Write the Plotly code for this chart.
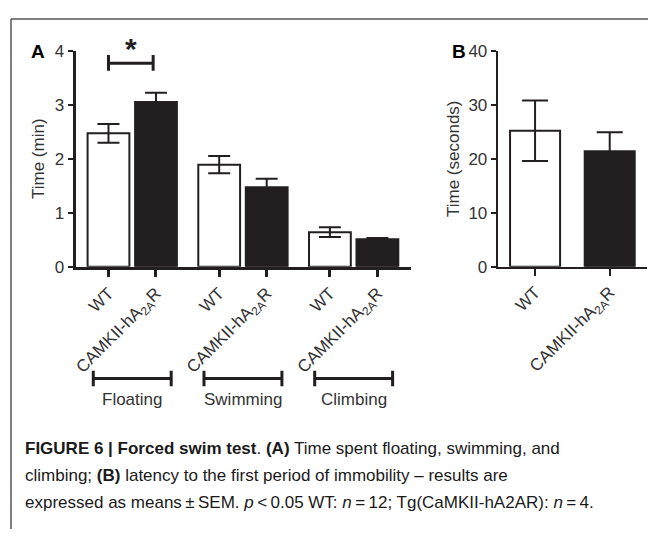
import plotly.graph_objects as go

# ---- data ----
groups = ["Floating", "Swimming", "Climbing"]
genotypes = ["WT", "CAMKII-hA<sub>2A</sub>R"]
wt_mean_a = [2.47, 1.89, 0.64]
wt_sem_a = [0.175, 0.16, 0.09]
tg_mean_a = [3.05, 1.47, 0.51]
tg_sem_a = [0.17, 0.16, 0.02]
b_mean = [25.2, 21.4]
b_sem = [5.6, 3.5]
a_yticks = [0, 1, 2, 3, 4]
b_yticks = [0, 10, 20, 30, 40]

OFF = 8  # page body margin
W, H = 656 - OFF, 539 - OFF
INK = "#231f20"
TXT = "#333333"
FONT = "Liberation Sans, Arial, sans-serif"

step = 2.33
x_wt = [i * step for i in range(len(groups))]
x_tg = [i * step + 1 for i in range(len(groups))]

def py(p):  # screen pixel y -> paper
    return (H - (p - OFF)) / H

def px(p):  # screen pixel x -> paper
    return (p - OFF) / W

fig = go.Figure()

fig.add_trace(go.Bar(
    x=x_wt, y=wt_mean_a, width=0.88, xaxis="x", yaxis="y",
    marker=dict(color="white", line=dict(color=INK, width=2)),
    error_y=dict(type="data", array=wt_sem_a, color=INK, thickness=2, width=11),
    showlegend=False))
fig.add_trace(go.Bar(
    x=x_tg, y=tg_mean_a, width=0.88, xaxis="x", yaxis="y",
    marker=dict(color=INK, line=dict(color=INK, width=2)),
    error_y=dict(type="data", array=tg_sem_a, color=INK, thickness=2, width=11),
    showlegend=False))

fig.add_trace(go.Bar(
    x=[0], y=[b_mean[0]], width=0.67, xaxis="x2", yaxis="y2",
    marker=dict(color="white", line=dict(color=INK, width=2)),
    error_y=dict(type="data", array=[b_sem[0]], color=INK, thickness=2, width=13),
    showlegend=False))
fig.add_trace(go.Bar(
    x=[1], y=[b_mean[1]], width=0.67, xaxis="x2", yaxis="y2",
    marker=dict(color=INK, line=dict(color=INK, width=2)),
    error_y=dict(type="data", array=[b_sem[1]], color=INK, thickness=2, width=13),
    showlegend=False))

tickvals_a = []
ticktext_a = []
for i in range(len(groups)):
    tickvals_a += [x_wt[i], x_tg[i]]
    ticktext_a += genotypes

ydom = [py(267), py(43)]
axis_common = dict(showgrid=False, zeroline=False, showline=True, linecolor=INK,
                   ticks="outside", tickcolor=INK,
                   tickfont=dict(family=FONT, size=17, color=TXT))

fig.update_layout(
    width=W, height=H, margin=dict(l=0, r=0, t=0, b=0),
    paper_bgcolor="white", plot_bgcolor="white", barmode="overlay",
    font=dict(family=FONT, color=TXT),
    xaxis=dict(domain=[px(73), px(410)], range=[-0.69, x_tg[-1] + 0.71],
               tickvals=tickvals_a, ticktext=ticktext_a, tickangle=-45,
               linewidth=3, ticklen=7, tickwidth=3, anchor="y",
               **axis_common),
    yaxis=dict(domain=ydom, range=[0, 4], tickvals=a_yticks, linewidth=3,
               ticklen=5, tickwidth=2, anchor="x",
               title=dict(text="Time (min)", font=dict(family=FONT, size=17, color=TXT), standoff=6),
               **axis_common),
    xaxis2=dict(domain=[px(497), px(647)], range=[-0.5, 1.5],
                tickvals=[0, 1], ticktext=genotypes, tickangle=-45,
                linewidth=2, ticklen=7, tickwidth=2, anchor="y2",
                **axis_common),
    yaxis2=dict(domain=ydom, range=[0, 40], tickvals=b_yticks, linewidth=2,
                ticklen=5, tickwidth=2, anchor="x2",
                title=dict(text="Time (seconds)", font=dict(family=FONT, size=17, color=TXT), standoff=4),
                **axis_common),
)

shapes = []
# frame
shapes.append(dict(type="line", xref="paper", yref="paper", x0=px(8), x1=1, y0=py(10), y1=py(10),
                   line=dict(color="#555555", width=1.5)))
shapes.append(dict(type="line", xref="paper", yref="paper", x0=px(8), x1=px(8), y0=py(10), y1=0,
                   line=dict(color="#555555", width=1.5)))
# significance bracket
sig_y = 3.77
shapes.append(dict(type="line", xref="x", yref="y", x0=x_wt[0], x1=x_tg[0] - 0.06, y0=sig_y, y1=sig_y,
                   line=dict(color=INK, width=3)))
for xv in (x_wt[0], x_tg[0] - 0.06):
    shapes.append(dict(type="line", xref="x", yref="y", x0=xv, x1=xv, y0=sig_y - 0.14, y1=sig_y + 0.15,
                       line=dict(color=INK, width=3)))
# group brackets
for i in range(len(groups)):
    c = (x_wt[i] + x_tg[i]) / 2
    shapes.append(dict(type="line", xref="x", yref="paper", x0=c - 0.82, x1=c + 0.82,
                       y0=py(383), y1=py(383), line=dict(color=INK, width=3)))
    for xv in (c - 0.82, c + 0.82):
        shapes.append(dict(type="line", xref="x", yref="paper", x0=xv, x1=xv,
                           y0=py(375), y1=py(391), line=dict(color=INK, width=3)))
fig.update_layout(shapes=shapes)

ann = []
for i, g in enumerate(groups):
    c = (x_wt[i] + x_tg[i]) / 2
    ann.append(dict(x=c, y=py(405), xref="x", yref="paper", text=g, showarrow=False,
                    font=dict(family=FONT, size=17, color=TXT), xanchor="center", yanchor="middle"))
ann.append(dict(x=(x_wt[0] + x_tg[0] - 0.06) / 2, y=py(41), xref="x", yref="paper", text="<b>*</b>",
                showarrow=False, font=dict(family=FONT, size=30, color=INK), yanchor="middle"))
ann.append(dict(x=px(35), y=py(44), xref="paper", yref="paper", text="<b>A</b>", showarrow=False,
                font=dict(family=FONT, size=19, color="black"), xanchor="center", yanchor="middle"))
ann.append(dict(x=px(458), y=py(44), xref="paper", yref="paper", text="<b>B</b>", showarrow=False,
                font=dict(family=FONT, size=19, color="black"), xanchor="center", yanchor="middle"))

cap_lines = [
    "<b>FIGURE 6 | Forced swim test</b>. <b>(A)</b> Time spent floating, swimming, and",
    "climbing; <b>(B)</b> latency to the first period of immobility \u2013 results are",
    "expressed as means\u2009\u00b1\u2009SEM. <i>p</i>\u2009<\u20090.05 WT: <i>n</i>\u2009=\u200912; "
    "Tg(CaMKII-hA2AR): <i>n</i>\u2009=\u20094.",
]
for k, line in enumerate(cap_lines):
    ann.append(dict(x=px(20), y=py(455 + 28 * k), xref="paper", yref="paper", text=line,
                    showarrow=False, xanchor="left", yanchor="middle", align="left",
                    font=dict(family=FONT, size=17, color="#1a1a1a")))
fig.update_layout(annotations=ann)

fig.write_html("out.html")
